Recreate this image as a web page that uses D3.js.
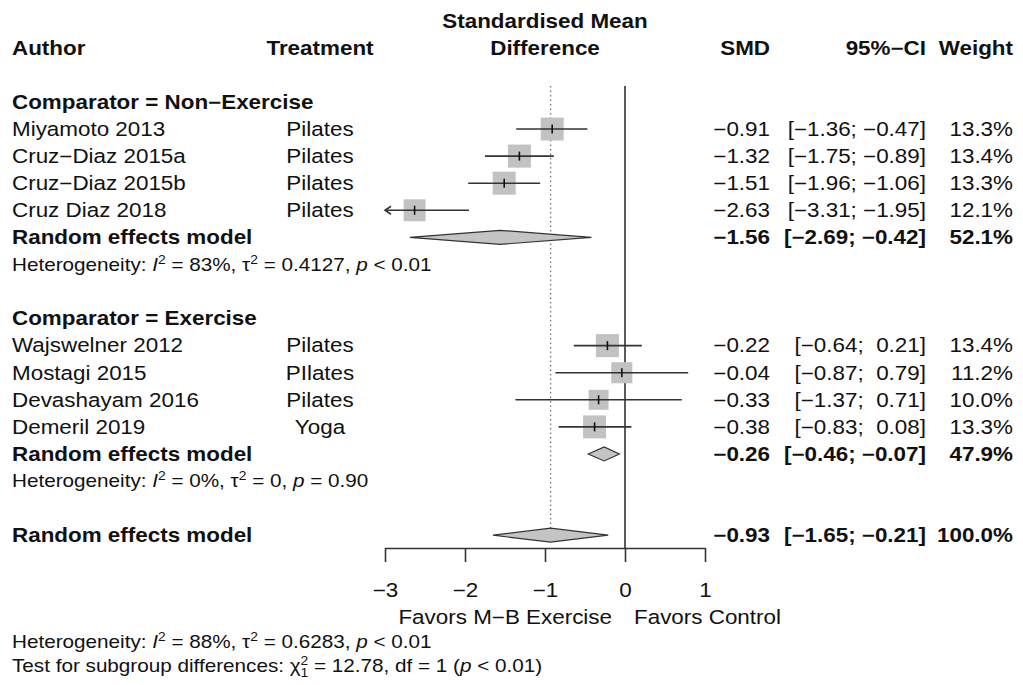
<!DOCTYPE html>
<html>
<head>
<meta charset="utf-8">
<script src="https://cdn.jsdelivr.net/npm/d3@7"></script>
<style>
  body { margin: 0; background: #fff; }
  text { font-family: "Liberation Sans", Arial, Helvetica, sans-serif; fill: #111; }
</style>
</head>
<body>
<div id="chart"></div>
<script>
var width = 1023;
var height = 685;

// study level data
var studies = ["Miyamoto 2013", "Cruz\u2212Diaz 2015a", "Cruz\u2212Diaz 2015b", "Cruz Diaz 2018",
               "Wajswelner 2012", "Mostagi 2015", "Devashayam 2016", "Demeril 2019"];
var treatment = ["Pilates", "Pilates", "Pilates", "Pilates", "Pilates", "PIlates", "Pilates", "Yoga"];
var group = [0, 0, 0, 0, 1, 1, 1, 1];
var smd = [-0.91, -1.32, -1.51, -2.63, -0.22, -0.04, -0.33, -0.38];
var lower = [-1.36, -1.75, -1.96, -3.31, -0.64, -0.87, -1.37, -0.83];
var upper = [-0.47, -0.89, -1.06, -1.95, 0.21, 0.79, 0.71, 0.08];
var weight = [13.3, 13.4, 13.3, 12.1, 13.4, 11.2, 10.0, 13.3];

// subgroup models
var groupNames = ["Comparator = Non\u2212Exercise", "Comparator = Exercise"];
var groupSmd = [-1.56, -0.26];
var groupLower = [-2.69, -0.46];
var groupUpper = [-0.42, -0.07];
var groupWeight = [52.1, 47.9];
var hetI2 = ["83%", "0%"];
var hetTau2 = ["0.4127", "0"];
var hetP = ["< 0.01", "= 0.90"];

// overall model
var overall = [-0.93, -1.65, -0.21, 100.0];   // smd, lower, upper, weight
var overallHet = ["88%", "0.6283", "< 0.01"];
var subgroupTest = ["12.78", "1", "< 0.01"];    // chi2, df, p

var xTicks = [-3, -2, -1, 0, 1];

var FS = 19.5, FS_SMALL = 18, SX = 1.15;
var ink = "#333";

var x = d3.scaleLinear().domain([-3, 1]).range([385, 705]);
var y = d3.scaleLinear().domain([0, 18]).range([47.8, 535.2]);
var f2 = d3.format(".2f");
var f1 = d3.format(".1f");

var svg = d3.select("#chart")
    .append("svg")
    .attr("width", width)
    .attr("height", height);

// text helper: slightly widened text like the reference
function label(x0, y0, s, opts) {
    opts = opts || {};
    var t = svg.append("g")
        .attr("transform", "translate(" + x0 + "," + y0 + ") scale(" + SX + ",1)")
        .append("text")
        .attr("dy", "0.35em")
        .attr("text-anchor", opts.anchor || "start")
        .style("font-size", (opts.size || FS) + "px")
        .style("font-weight", opts.bold ? "bold" : null)
        .style("white-space", "pre");
    if (s !== null) t.text(s);
    return t;
}

function ci(lo, hi) {
    var a = f2(lo), b = f2(hi);
    if (lo >= 0) a = " " + a;
    if (hi >= 0) b = " " + b;
    return "[" + a + "; " + b + "]";
}

function hetLine(x0, y0, i2, tau2, p) {
    var t = label(x0, y0, null, { size: FS_SMALL });
    t.append("tspan").text("Heterogeneity: ");
    t.append("tspan").style("font-style", "italic").text("I");
    t.append("tspan").attr("dy", -7).style("font-size", "12px").text("2");
    t.append("tspan").attr("dy", 7).text(" = " + i2 + ", \u03c4");
    t.append("tspan").attr("dy", -7).style("font-size", "12px").text("2");
    t.append("tspan").attr("dy", 7).text(" = " + tau2 + ", ");
    t.append("tspan").style("font-style", "italic").text("p");
    t.append("tspan").text(" " + p);
    return t;
}

// row layout
var rows = [];   // {type, index, row}
var r = 2;
groupNames.forEach(function(g, gi) {
    rows.push({ type: "group", i: gi, row: r++ });
    studies.forEach(function(s, si) {
        if (group[si] === gi) rows.push({ type: "study", i: si, row: r++ });
    });
    rows.push({ type: "model", i: gi, row: r++ });
    rows.push({ type: "het", i: gi, row: r++ });
    r++;
});
var overallRow = r;

// headers
label(12, y(0), "Author", { bold: true });
label(320, y(0), "Treatment", { bold: true, anchor: "middle" });
label(x(-1), y(-1), "Standardised Mean", { bold: true, anchor: "middle" });
label(x(-1), y(0), "Difference", { bold: true, anchor: "middle" });
label(770, y(0), "SMD", { bold: true, anchor: "end" });
label(926, y(0), "95%\u2212CI", { bold: true, anchor: "end" });
label(1013, y(0), "Weight", { bold: true, anchor: "end" });

// reference lines
var topY = 86;
svg.append("line")
    .attr("x1", x(overall[0])).attr("x2", x(overall[0]))
    .attr("y1", topY).attr("y2", y(overallRow) - 7)
    .attr("stroke", "#777").attr("stroke-width", 1.3)
    .attr("stroke-dasharray", "1.5,3");

svg.append("line")
    .attr("x1", x(0)).attr("x2", x(0))
    .attr("y1", topY).attr("y2", 548)
    .attr("stroke", ink).attr("stroke-width", 1.6);

function diamond(cy, est, lo, hi) {
    var h = 7;
    svg.append("path")
        .attr("d", "M" + x(lo) + "," + cy + "L" + x(est) + "," + (cy - h) +
                   "L" + x(hi) + "," + cy + "L" + x(est) + "," + (cy + h) + "Z")
        .attr("fill", "#c4c4c4").attr("stroke", ink).attr("stroke-width", 1.2);
}

rows.forEach(function(d) {
    var cy = y(d.row);
    if (d.type === "group") {
        label(12, cy, groupNames[d.i], { bold: true });
    } else if (d.type === "study") {
        var i = d.i;
        label(12, cy, studies[i]);
        label(320, cy, treatment[i], { anchor: "middle" });
        label(770, cy, f2(smd[i]), { anchor: "end" });
        label(926, cy, ci(lower[i], upper[i]), { anchor: "end" });
        label(1013, cy, f1(weight[i]) + "%", { anchor: "end" });

        var side = 6.3 * Math.sqrt(weight[i]);
        svg.append("rect")
            .attr("x", x(smd[i]) - side / 2).attr("y", cy - side / 2)
            .attr("width", side).attr("height", side)
            .attr("fill", "#c2c2c2");

        var lo = Math.max(lower[i], x.domain()[0]);
        var hi = Math.min(upper[i], x.domain()[1]);
        svg.append("line")
            .attr("x1", x(lo)).attr("x2", x(hi))
            .attr("y1", cy).attr("y2", cy)
            .attr("stroke", ink).attr("stroke-width", 1.6);
        if (lower[i] < x.domain()[0]) {
            var tip = x(x.domain()[0]);
            svg.append("path")
                .attr("d", "M" + (tip + 6) + "," + (cy - 4) + "L" + tip + "," + cy + "L" + (tip + 6) + "," + (cy + 4))
                .attr("fill", "none").attr("stroke", ink).attr("stroke-width", 1.6);
        }
        svg.append("line")
            .attr("x1", x(smd[i])).attr("x2", x(smd[i]))
            .attr("y1", cy - 4.5).attr("y2", cy + 4.5)
            .attr("stroke", "#111").attr("stroke-width", 1.6);
    } else if (d.type === "model") {
        var g = d.i;
        label(12, cy, "Random effects model", { bold: true });
        label(770, cy, f2(groupSmd[g]), { anchor: "end", bold: true });
        label(926, cy, ci(groupLower[g], groupUpper[g]), { anchor: "end", bold: true });
        label(1013, cy, f1(groupWeight[g]) + "%", { anchor: "end", bold: true });
        diamond(cy, groupSmd[g], groupLower[g], groupUpper[g]);
    } else if (d.type === "het") {
        hetLine(12, cy, hetI2[d.i], hetTau2[d.i], hetP[d.i]);
    }
});

// overall model
var oy = y(overallRow);
label(12, oy, "Random effects model", { bold: true });
label(770, oy, f2(overall[0]), { anchor: "end", bold: true });
label(926, oy, ci(overall[1], overall[2]), { anchor: "end", bold: true });
label(1013, oy, f1(overall[3]) + "%", { anchor: "end", bold: true });
diamond(oy, overall[0], overall[1], overall[2]);

// x axis
var axis = svg.append("g")
    .attr("transform", "translate(0,548)")
    .call(d3.axisBottom(x).tickValues(xTicks).tickFormat(d3.format("d"))
        .tickSize(14).tickSizeOuter(0));
axis.select(".domain").attr("stroke", ink).attr("stroke-width", 1.6);
axis.selectAll(".tick line").attr("stroke", ink).attr("stroke-width", 1.6);
axis.selectAll(".tick text")
    .attr("y", 42).attr("dy", "0.35em")
    .attr("transform", "scale(" + SX + ",1)")
    .style("font-size", FS + "px")
    .style("font-family", "'Liberation Sans', Arial, sans-serif")
    .attr("fill", "#111");

label(612, 617, "Favors M\u2212B Exercise", { anchor: "end" });
label(634, 617, "Favors Control");

// bottom statistics
hetLine(12, 642, overallHet[0], overallHet[1], overallHet[2]);
var tt = label(12, 666, null, { size: FS_SMALL });
tt.append("tspan").text("Test for subgroup differences: \u03c7");
tt.append("tspan").attr("dy", -7).style("font-size", "12px").text("2");
tt.append("tspan").attr("dx", -6.7).attr("dy", 12).style("font-size", "12px").text("1");
tt.append("tspan").attr("dy", -5).text(" = " + subgroupTest[0] + ", df = " + subgroupTest[1] + " (");
tt.append("tspan").style("font-style", "italic").text("p");
tt.append("tspan").text(" " + subgroupTest[2] + ")");
</script>
</body>
</html>
